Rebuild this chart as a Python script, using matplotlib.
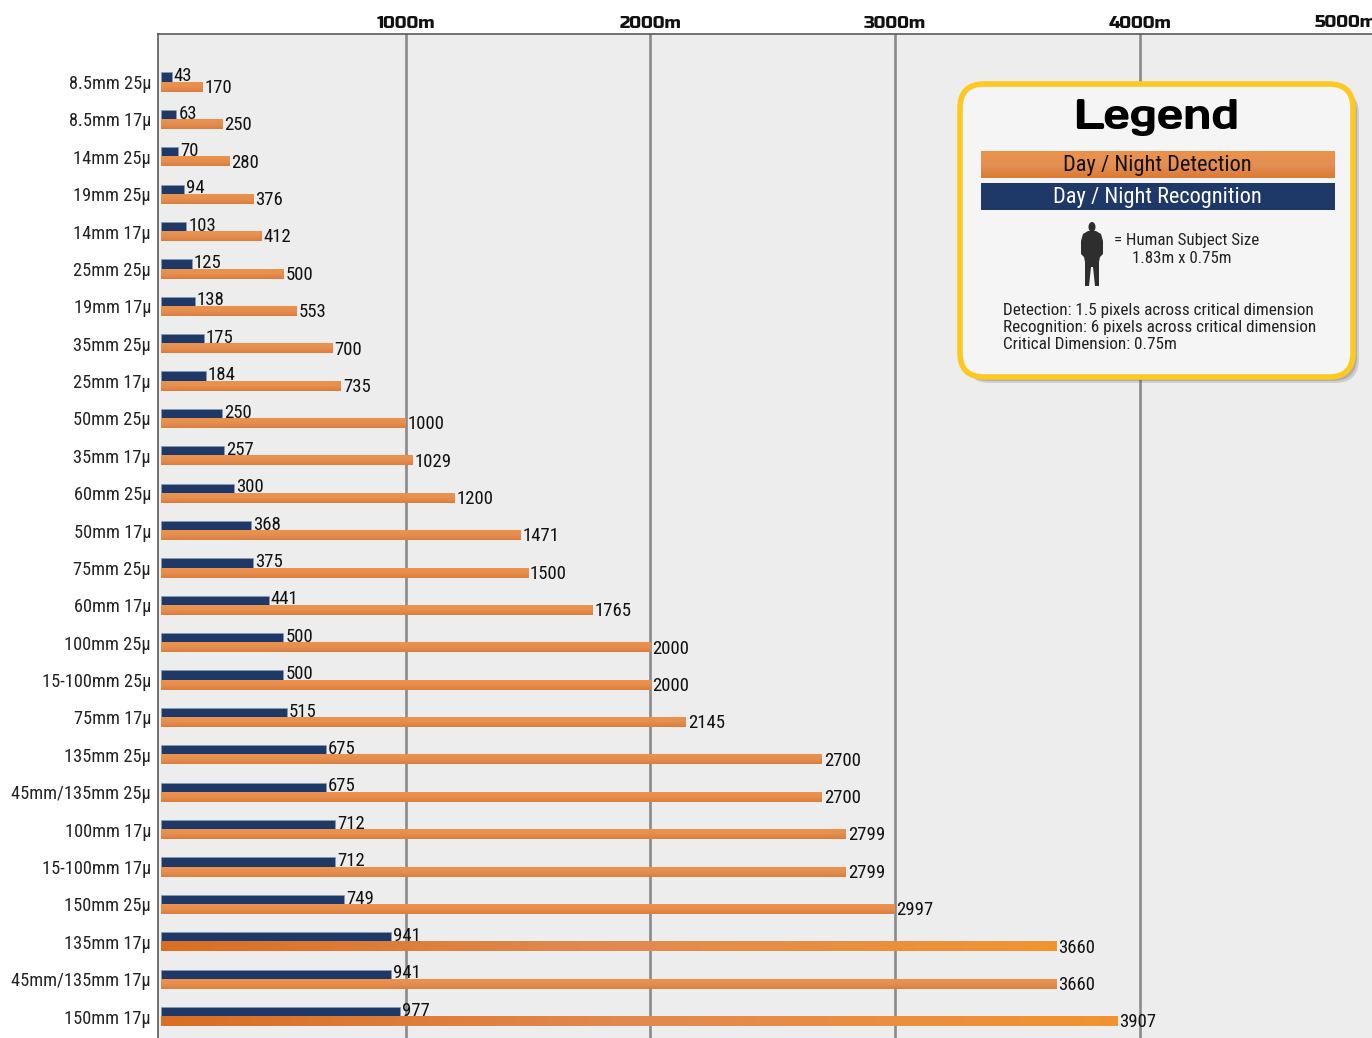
import numpy as np
import matplotlib
matplotlib.use("Agg")
import matplotlib.pyplot as plt
from matplotlib.colors import LinearSegmentedColormap
from matplotlib.patches import FancyBboxPatch, Rectangle, Polygon, Ellipse

plt.rcParams['font.family'] = ['Roboto Condensed', 'Barlow Semi Condensed', 'DejaVu Sans']
WIDE_FONT = ['Russo One', 'DejaVu Sans']
TITLE_FONT = ['Days One', 'DejaVu Sans']

lenses = ["8.5mm 25µ", "8.5mm 17µ", "14mm 25µ", "19mm 25µ", "14mm 17µ", "25mm 25µ", "19mm 17µ",
          "35mm 25µ", "25mm 17µ", "50mm 25µ", "35mm 17µ", "60mm 25µ", "50mm 17µ", "75mm 25µ",
          "60mm 17µ", "100mm 25µ", "15-100mm 25µ", "75mm 17µ", "135mm 25µ", "45mm/135mm 25µ",
          "100mm 17µ", "15-100mm 17µ", "150mm 25µ", "135mm 17µ", "45mm/135mm 17µ", "150mm 17µ"]
recognition = [43, 63, 70, 94, 103, 125, 138, 175, 184, 250, 257, 300, 368, 375,
               441, 500, 500, 515, 675, 675, 712, 712, 749, 941, 941, 977]
detection = [170, 250, 280, 376, 412, 500, 553, 700, 735, 1000, 1029, 1200, 1471, 1500,
             1765, 2000, 2000, 2145, 2700, 2700, 2799, 2799, 2997, 3660, 3660, 3907]
range_ticks = [1000, 2000, 3000, 4000]
range_labels = ["1000m", "2000m", "3000m", "4000m"]

NAVY = "#1E3868"
W, H = 1372, 1038
ORANGE_V = ["#EB934C", "#E68E50", "#DC7D3C"]
ORANGE_H = ["#D86F24", "#E08A52", "#F09432"]


def paint_gradient(ax, patch, colors, horizontal=False):
    cmap = LinearSegmentedColormap.from_list("bar", colors)
    grad = np.linspace(0, 1, 128)
    grad = grad.reshape(1, -1) if horizontal else grad.reshape(-1, 1)
    x, y = patch.get_x(), patch.get_y()
    ax.imshow(grad, cmap=cmap, aspect="auto", zorder=3, interpolation="bilinear",
              extent=(x, x + patch.get_width(), y + patch.get_height(), y))


fig = plt.figure(figsize=(W / 100, H / 100), dpi=100, facecolor="white")
ax = fig.add_axes([158 / W, 0, (W - 158) / W, (H - 34) / H], facecolor="#EDEDED")

rows = np.arange(len(lenses))
ax.barh(rows - 0.13, recognition, height=0.255, color=NAVY, edgecolor="#8C9BB5", linewidth=0.5, zorder=3)
orange_bars = ax.barh(rows + 0.13, detection, height=0.255, color=ORANGE_V[1], zorder=3)
for i, patch in enumerate(orange_bars):
    paint_gradient(ax, patch, ORANGE_H if i in (23, 25) else ORANGE_V, horizontal=i in (23, 25))

for i in rows:
    ax.annotate(str(recognition[i]), (recognition[i], i - 0.13), xytext=(2, 1), textcoords="offset pixels",
                va="center", ha="left", fontsize=13.5, color="#111111", zorder=5)
    ax.annotate(str(detection[i]), (detection[i], i + 0.13), xytext=(2, -1), textcoords="offset pixels",
                va="center", ha="left", fontsize=13.5, color="#111111", zorder=5)

ax.set_xlim(-12.3, 4949)
ax.set_ylim(25.575, -1.284)
ax.set_yticks(rows, lenses, fontsize=13.2, color="#222222")
ax.set_xticks(range_ticks, range_labels, family=WIDE_FONT, fontsize=12.5, color="#111111")
ax.tick_params(axis="x", top=True, bottom=False, labeltop=True, labelbottom=False, length=0, pad=2.5)
ax.tick_params(axis="y", length=0, pad=5)
ax.grid(axis="x", color="#8A8A8A", linewidth=1.9, zorder=1)
ax.set_axisbelow(True)
for side in ("right", "bottom"):
    ax.spines[side].set_visible(False)
for side in ("left", "top"):
    ax.spines[side].set_color("#5A5A5A")
    ax.spines[side].set_linewidth(1.2)
ax.annotate("5000m", (4843, 1), xycoords=ax.get_xaxis_transform(), xytext=(0, 3), textcoords="offset points",
            family=WIDE_FONT, fontsize=12.5, color="#111111", ha="center", va="bottom", annotation_clip=False)

# legend panel, in pixel coordinates
lg = fig.add_axes([0, 0, 1, 1], zorder=10)
lg.axis("off")

for k, alpha in zip((6, 4, 2), (0.2, 0.25, 0.3)):
    lg.add_patch(FancyBboxPatch((960 + k, 84 + k), 393, 293, boxstyle="round,pad=0,rounding_size=24",
                                fc="#555555", ec="none", alpha=alpha))
lg.add_patch(FancyBboxPatch((960, 84), 393, 293, boxstyle="round,pad=0,rounding_size=24",
                            fc="#F5F5F5", ec="#FDC921", linewidth=4))

lg.text(1156, 117, "Legend", family=TITLE_FONT, fontsize=30, ha="center", va="center", color="black")

grad_img = np.linspace(0, 1, 64).reshape(-1, 1)
lg.imshow(grad_img, cmap=LinearSegmentedColormap.from_list("key", ["#EC9349", "#E48F56", "#DB7A33"]),
          extent=(981, 1335, 178, 151), aspect="auto", zorder=2)
lg.add_patch(Rectangle((981, 183), 354, 27, fc=NAVY, ec="none", zorder=2))
lg.set_xlim(0, W)
lg.set_ylim(H, 0)
lg.text(1157, 165, "Day / Night Detection", fontsize=16.1, ha="center", va="center", color="#111111", zorder=3)
lg.text(1157, 197, "Day / Night Recognition", fontsize=16.1, ha="center", va="center", color="white", zorder=3)

# human silhouette
lg.add_patch(Ellipse((1092, 227), 7, 10, fc="#2E2E2E", ec="none"))
lg.add_patch(Polygon([(1088, 231), (1096, 231), (1101, 234), (1103, 241), (1103, 254), (1100, 257), (1099, 262),
                      (1099, 281), (1099, 286), (1095, 286), (1093, 267), (1091, 267), (1089, 286), (1085, 286),
                      (1085, 281), (1085, 262), (1084, 257), (1081, 254), (1081, 241), (1083, 234)],
                     fc="#2E2E2E", ec="none"))

lg.text(1114, 240.5, "= Human Subject Size", fontsize=12.2, va="center", ha="left", color="#222222")
lg.text(1132, 258.5, "1.83m x 0.75m", fontsize=12.2, va="center", ha="left", color="#222222")
lg.text(1003, 310.5, "Detection: 1.5 pixels across critical dimension", fontsize=12.3, va="center", color="#222222")
lg.text(1003, 327.5, "Recognition: 6 pixels across critical dimension", fontsize=12.3, va="center", color="#222222")
lg.text(1003, 344.5, "Critical Dimension: 0.75m", fontsize=12.3, va="center", color="#222222")

fig.savefig("out.png", dpi=100)
